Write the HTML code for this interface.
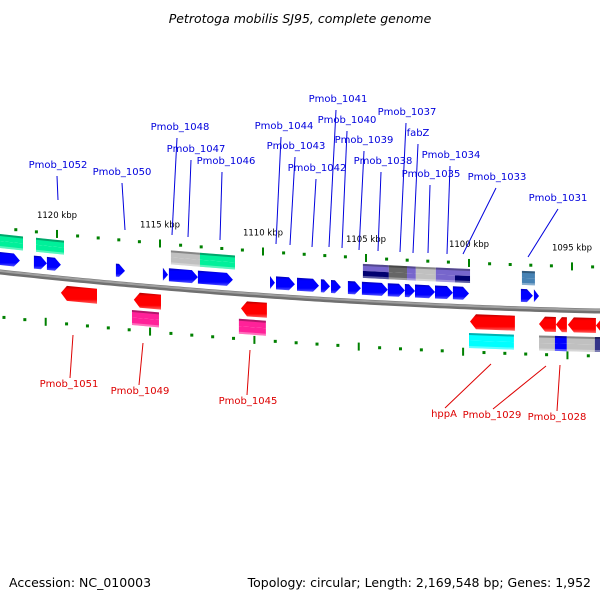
<!DOCTYPE html>
<html><head><meta charset="utf-8"><style>
html,body{margin:0;padding:0;background:#fff;}
svg text{font-family:"DejaVu Sans","Liberation Sans",sans-serif;}
</style></head><body>
<svg id="map" width="600" height="600" viewBox="0 0 600 600">
<defs>
<linearGradient id="g-blue" x1="0" y1="0" x2="0" y2="1"><stop offset="0" stop-color="#0000b0"/><stop offset="0.2" stop-color="#0000ff"/><stop offset="0.75" stop-color="#0000ff"/><stop offset="1" stop-color="#5555ff"/></linearGradient>
<linearGradient id="g-red" x1="0" y1="0" x2="0" y2="1"><stop offset="0" stop-color="#b00000"/><stop offset="0.2" stop-color="#ff0000"/><stop offset="0.75" stop-color="#ff0000"/><stop offset="1" stop-color="#ff6060"/></linearGradient>
</defs>
<text x="300" y="23" text-anchor="middle" font-size="12.5" font-style="italic" fill="#000">Petrotoga mobilis SJ95, complete genome</text>
<g id="layer"></g>
<text x="9" y="587" font-size="12.5" fill="#000">Accession: NC_010003</text>
<text x="591" y="587" text-anchor="end" font-size="12.5" fill="#000">Topology: circular; Length: 2,169,548 bp; Genes: 1,952</text>
</svg>
<script>
// ---- data (kbp) ----
const majorTicks = [1120, 1115, 1110, 1105, 1100, 1095];
const tickLabels = ["1120 kbp","1115 kbp","1110 kbp","1105 kbp","1100 kbp","1095 kbp"];
const fwdGenes = [[1123.0,1121.8],[1121.12,1120.49],[1120.49,1119.81],[1117.14,1116.70],[1114.86,1114.61],[1114.57,1113.16],[1113.16,1111.46],[1109.66,1109.42],[1109.37,1108.45],[1108.35,1107.28],[1107.19,1106.75],[1106.70,1106.22],[1105.88,1105.25],[1105.20,1103.94],[1103.94,1103.11],[1103.11,1102.62],[1102.62,1101.65],[1101.65,1100.78],[1100.78,1100.00],[1097.48,1096.90],[1096.85,1096.60]];
const revGenes = [[1119.81,1118.06],[1116.27,1114.95],[1111.07,1109.81],[1099.95,1097.77],[1096.60,1095.78],[1095.78,1095.25],[1095.20,1093.84],[1093.84,1093.35]];
const pinkBoxes = [[1116.36,1115.05],[1111.17,1109.86]];
const cyanBoxes = [[1100.00,1097.82]];
const upperBoxes = [[1123.0,1121.65,"#00f09a","#00f09a"],[1121.02,1120.34,"#00f09a","#00f09a"],[1120.34,1119.66,"#00f09a","#00f09a"],[1114.47,1113.06,"#c0c0c0","#c0c0c0"],[1113.06,1111.36,"#00f09a","#00f09a"],[1105.15,1103.89,"#7766cc","#000070"],[1103.89,1103.01,"#666666","#666666"],[1103.01,1102.58,"#7766cc","#7766cc"],[1102.58,1101.61,"#c0c0c0","#c0c0c0"],[1101.61,1100.68,"#7766cc","#7766cc"],[1100.68,1099.95,"#7766cc","#000070"],[1097.43,1096.80,"#4682b4","#4682b4"]];
const lowerBoxes = [[1096.60,1095.83,"#c0c0c0"],[1095.83,1095.25,"#0000ff"],[1095.25,1093.89,"#c0c0c0"],[1093.89,1093.35,"#333388"]];
const blueLabels = [["Pmob_1052",58,168,57,176,58,200],["Pmob_1050",122,175,122,183,125,230],["Pmob_1048",180,130,177,138,172,235],["Pmob_1047",196,152,191,160,188,237],["Pmob_1046",226,164,222,172,220,240],["Pmob_1044",284,129,281,137,276,244],["Pmob_1043",296,149,295,157,290,245],["Pmob_1042",317,171,316,179,312,247],["Pmob_1041",338,102,336,110,329,247],["Pmob_1040",347,123,347,131,342,248],["Pmob_1039",364,143,364,151,359,250],["Pmob_1038",383,164,381,172,378,251],["Pmob_1037",407,115,406,123,400,252],["fabZ",418,136,418,144,413,253],["Pmob_1034",451,158,450,166,447,254],["Pmob_1035",431,177,430,185,428,253],["Pmob_1033",497,180,496,188,463,254],["Pmob_1031",558,201,558,209,528,257]];
const redLabels = [["Pmob_1051",69,387,73,335,70,378],["Pmob_1049",140,394,143,343,139,385],["Pmob_1045",248,404,250,350,247,395],["hppA",444,417,491,364,445,408],["Pmob_1029",492,418,546,366,493,409],["Pmob_1028",557,420,560,365,557,411]];

// ---- scales ----
const X = k => 57 + (1120 - k) * 20.6;
const XL = k => 45.7 + (1120 - k) * 20.87;
const B = x => 272 + 0.1083 * x - 0.000072 * x * x;
const NS = "http://www.w3.org/2000/svg";
const layer = document.getElementById('layer');
function mk(tag, attrs, parent) { const e = document.createElementNS(NS, tag); for (const k in attrs) e.setAttribute(k, attrs[k]); (parent || layer).appendChild(e); return e; }

// backbone
let d = "";
for (let x = -5; x <= 605; x += 5) d += (x === -5 ? "M" : "L") + x + "," + B(x).toFixed(2);
let bb = mk('path', { d: d, stroke: "#707070", "stroke-width": 5, fill: "none" });


let bb2 = mk('path', { d: d, stroke: "#a0a0a0", "stroke-width": 2, fill: "none", transform: "translate(0,-1)" });



// ticks
for (let k = 1124; k >= 1092; k--) {
  const major = k % 5 === 0;
  const x = X(k), y = B(x) - 44;
  let t = major ? mk('rect', { x: x - 1, y: y - 4, width: 2, height: 8, fill: "#008000" }) : mk('rect', { x: x - 1.5, y: y - 1.5, width: 3, height: 3, fill: "#008000" });
  
  
  const xl = XL(k), yl = B(xl) + 45;
  let t2 = major ? mk('rect', { x: xl - 1, y: yl - 4, width: 2, height: 8, fill: "#008000" }) : mk('rect', { x: xl - 1.5, y: yl - 1.5, width: 3, height: 3, fill: "#008000" });
  
  
}
majorTicks.forEach((k, i) => {
  const x = X(k);
  const t = mk('text', { x: x, y: B(x) - 60, "text-anchor": "middle", "font-size": 8.5, fill: "#000" });
  t.textContent = tickLabels[i];
  
  
});

function gene(a, b, top, bot, dir, fill, name) {
  let xl = Math.min(X(a), X(b)), xr = Math.max(X(a), X(b));
  const h = Math.min(6, (xr - xl));
  let pts;
  const yl = B(xl), yr = B(xr);
  if (dir > 0) {
    pts = [[xl, yl + top], [xr - h, B(xr - h) + top], [xr, yr + (top + bot) / 2], [xr - h, B(xr - h) + bot], [xl, yl + bot]];
  } else {
    pts = [[xr, yr + top], [xl + h, B(xl + h) + top], [xl, yl + (top + bot) / 2], [xl + h, B(xl + h) + bot], [xr, yr + bot]];
  }
  const p = mk('polygon', { points: pts.map(q => q[0].toFixed(1) + "," + q[1].toFixed(1)).join(" "), fill: fill });
  
  
}
function box(a, b, top, bot, c1, c2, name) {
  const xl = Math.min(X(a), X(b)), xr = Math.max(X(a), X(b));
  const mid = (top + bot) / 2;
  const g = mk('g', {});
  
  
  const poly = (t, bo, f) => mk('polygon', { points: `${xl},${B(xl) + t} ${xr},${B(xr) + t} ${xr},${B(xr) + bo} ${xl},${B(xl) + bo}`, fill: f }, g);
  poly(top, mid, c1); poly(mid, bot, c2);
  poly(top, top + 2, "rgba(0,0,0,0.3)");
  poly(bot - 2, bot, "rgba(255,255,255,0.35)");
}
upperBoxes.forEach(g => box(g[0], g[1], -38, -24, g[2], g[3], 'feature-box-upper'));
fwdGenes.forEach(g => gene(g[0], g[1], -20, -7, 1, "url(#g-blue)", 'forward-gene'));
revGenes.forEach(g => gene(g[0], g[1], 7, 22, -1, "url(#g-red)", 'reverse-gene'));
pinkBoxes.forEach(g => box(g[0], g[1], 25, 40, "#ff2299", "#ff2299", 'feature-box-pink'));
cyanBoxes.forEach(g => box(g[0], g[1], 26, 41, "#00ffff", "#00ffff", 'feature-box-cyan'));
lowerBoxes.forEach(g => box(g[0], g[1], 26, 41, g[2], g[2], 'feature-box-lower'));

function label(l, color, name) {
  const ln = mk('line', { x1: l[3], y1: l[4], x2: l[5], y2: l[6], stroke: color, "stroke-width": 1 });
  
  
  const t = mk('text', { x: l[1], y: l[2], "text-anchor": "middle", "font-size": 10, fill: color });
  t.textContent = l[0];
  
  
}
blueLabels.forEach(l => label(l, "#0000dd", 'forward-gene-label'));
redLabels.forEach(l => label(l, "#dd0000", 'reverse-gene-label'));
</script>
</body></html>
